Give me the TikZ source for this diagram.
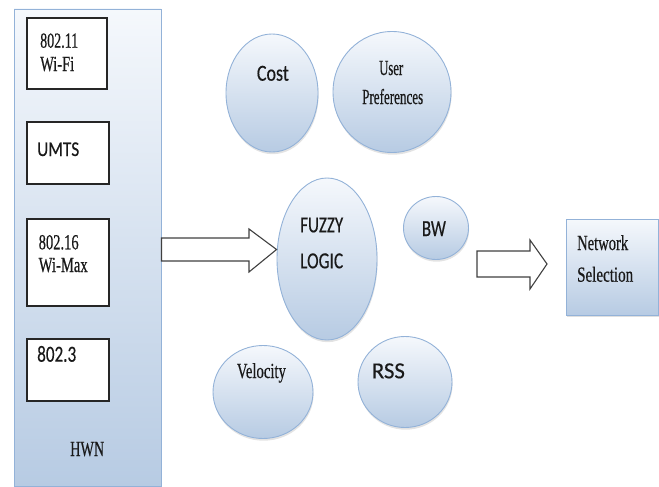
\documentclass[tikz,border=0pt]{standalone}
\usepackage{fontspec}
\usetikzlibrary{shapes.geometric,shadows,calc}
\newfontfamily\tnrfont[FakeBold=0.6]{Liberation Serif}
\newfontfamily\calfont[FakeBold=0.4]{Carlito}
\newcommand\tw[2]{\resizebox{#1pt}{\height}{#2}}
\definecolor{bluetop}{HTML}{F5F8FC}
\definecolor{bluebot}{HTML}{B7CBE3}
\definecolor{blueedge}{HTML}{93B2D8}
\begin{document}
\begin{tikzpicture}[x=1pt,y=-1pt,
  tt/.style={inner sep=0pt, anchor=base west, text=black!90, font=\tnrfont\fontsize{21.5}{24}\selectfont},
  ct/.style={inner sep=0pt, anchor=base west, text=black!90, font=\calfont\fontsize{23}{26}\selectfont},
  bubble/.style={ellipse, draw=blueedge, line width=0.9pt, top color=bluetop, bottom color=bluebot, inner sep=0pt,
    drop shadow={opacity=0.22, shadow xshift=0.6pt, shadow yshift=-2.2pt}},
  panel/.style={rectangle, draw=blueedge, line width=0.9pt, top color=bluetop, bottom color=bluebot, inner sep=0pt},
  netbox/.style={rectangle, draw=black!85, line width=1.1pt, fill=white, inner sep=0pt},
  blockarrow/.style={draw=black!75, fill=white, line width=1.1pt, line join=miter}]
\useasboundingbox (0,0) rectangle (659,487);

% HWN panel
\node[panel, minimum width=147pt, minimum height=477pt] (hwn) at (87.5,247.5) {};
\node[netbox, minimum width=80pt, minimum height=71pt] (wifi) at (67,53.5) {};
\node[netbox, minimum width=82pt, minimum height=62pt] (umts) at (68,153) {};
\node[netbox, minimum width=82pt, minimum height=87pt] (wimax) at (68,262.5) {};
\node[netbox, minimum width=82pt, minimum height=62pt] (eth) at (68,370) {};

\node[tt] (t80211) at (40,47.7) {\tw{38}{802.11}};
\node[tt] (twifi) at (40,71) {\tw{34}{Wi-Fi}};
\node[ct, font=\calfont\fontsize{21}{24}\selectfont] (tumts) at (37,156) {\tw{42}{UMTS}};
\node[tt] (t80216) at (38.5,249.3) {\tw{40}{802.16}};
\node[tt] (twimax) at (38.5,272) {\tw{49}{Wi-Max}};
\node[ct] (t8023) at (37,361.7) {\tw{39}{802.3}};
\node[tt] (thwn) at (70,456) {\tw{34}{HWN}};

% bubbles
\node[bubble, minimum width=92pt, minimum height=118pt] (cost) at (272,93) {};
\node[bubble, minimum width=118pt, minimum height=121pt] (user) at (392,92) {};
\node[bubble, minimum width=100pt, minimum height=162pt] (fuzzy) at (327,259) {};
\node[bubble, minimum width=65pt, minimum height=63pt] (bw) at (436,228) {};
\node[bubble, minimum width=100pt, minimum height=93pt] (vel) at (263,392) {};
\node[bubble, minimum width=94pt, minimum height=91pt] (rss) at (405,382) {};

\node[ct] (tcost) at (256.7,80.7) {\tw{32}{Cost}};
\node[tt] (tuser) at (379,75) {\tw{24}{User}};
\node[tt] (tpref) at (362,104) {\tw{61}{Preferences}};
\node[ct] (tfuzzy) at (300,232.3) {\tw{43}{FUZZY}};
\node[ct] (tlogic) at (300,268.3) {\tw{43}{LOGIC}};
\node[ct] (tbw) at (421.7,236) {\tw{24}{BW}};
\node[tt] (tvel) at (236.7,378) {\tw{49}{Velocity}};
\node[ct] (trss) at (371.7,378.3) {\tw{33}{RSS}};

% network selection
\node[panel, minimum width=92pt, minimum height=96pt,
  drop shadow={opacity=0.25, shadow xshift=1pt, shadow yshift=-2pt}] (net) at (612,267) {};
\node[tt] (tnet) at (577,250) {\tw{51}{Network}};
\node[tt] (tsel) at (577,281.7) {\tw{56}{Selection}};

% block arrows
\coordinate (a1) at (hwn.east |- 0,249.5);
\coordinate (a1tip) at (fuzzy.west |- 0,249.5);
\draw[blockarrow] ($(a1)+(0,-11.5)$) -- (249,238) -- (249,229) -- (a1tip) -- (249,272) -- (249,261) -- ($(a1)+(0,11.5)$) -- cycle;
\coordinate (a2) at (477,264);
\coordinate (a2tip) at (547,264);
\draw[blockarrow] ($(a2)+(0,-13)$) -- (530,251) -- (530,240) -- (a2tip) -- (530,289) -- (530,277) -- ($(a2)+(0,13)$) -- cycle;
\end{tikzpicture}
\end{document}
